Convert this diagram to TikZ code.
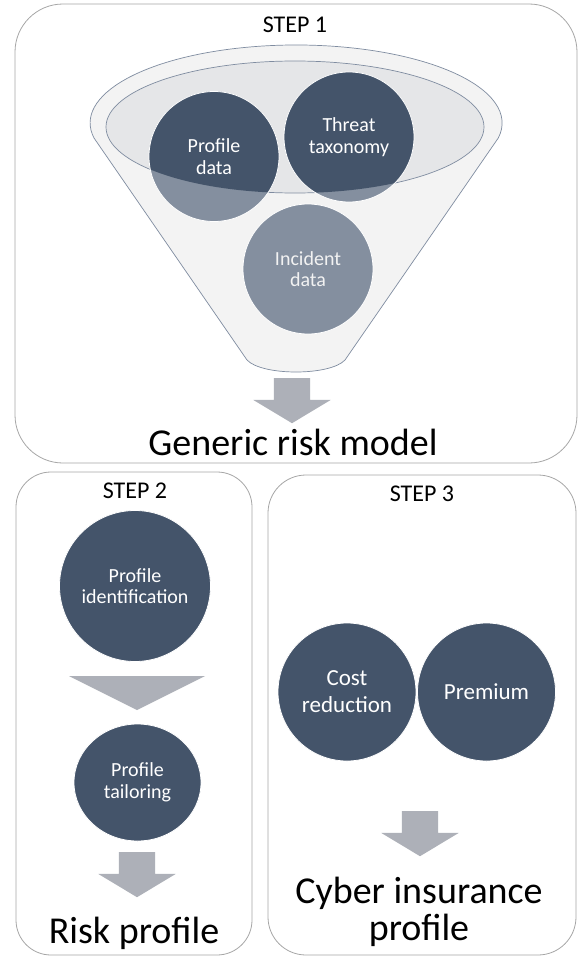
\documentclass[tikz,border=0pt]{standalone}
\usepackage{fontspec}
\setmainfont{Carlito}
\usepackage{tikz}
\usetikzlibrary{shapes, shapes.geometric, shapes.arrows, positioning}

\definecolor{bubbledark}{RGB}{68,84,106}
\definecolor{bubblelight}{RGB}{132,143,159}
\definecolor{arrowgrey}{RGB}{173,176,184}
\definecolor{funnelfill}{RGB}{243,243,243}
\definecolor{rimfill}{RGB}{229,230,232}
\definecolor{funnelline}{RGB}{127,140,160}
\definecolor{panelline}{RGB}{166,166,166}

\begin{document}
\begin{tikzpicture}[x=1pt, y=-1pt]
\tikzstyle{panel} = [draw=panelline, line width=0.8pt, fill=white, rectangle, inner sep=0pt]
\tikzstyle{steplabel} = [anchor=base, inner sep=0pt, font=\fontsize{24}{28}\selectfont]
\tikzstyle{bubble} = [circle, fill=bubbledark, draw=white, line width=0.8pt, text=white, align=center, inner sep=0pt, font=\fontsize{20}{21.5}\selectfont]
\tikzstyle{bigbubble} = [bubble, minimum size=138pt, font=\fontsize{23}{27}\selectfont]
\tikzstyle{darktop} = [path picture={\fill[bubbledark] (rim.center) ellipse [x radius=189pt, y radius=66pt];}]
\tikzstyle{result} = [anchor=base, inner sep=0pt, font=\fontsize{38}{37}\selectfont]
\tikzstyle{downarrow} = [single arrow, fill=arrowgrey, minimum height=45pt, inner xsep=0pt, inner ysep=18pt, single arrow head extend=20.5pt, single arrow tip angle=118, single arrow head indent=0pt, rotate=270, anchor=tail]

\useasboundingbox (0,0) rectangle (579,958);

%draw panels
\node [panel, name = step1, minimum width=562pt, minimum height=459pt, rounded corners=48pt] at (296,233.5) {};
\node [panel, name = step2, minimum width=236pt, minimum height=483pt, rounded corners=35pt] at (134,713.5) {};
\node [panel, name = step3, minimum width=308pt, minimum height=480pt, rounded corners=38pt] at (422,715) {};

%%step 1
\node (s1label)[steplabel] at (295,33) {STEP 1};
\path [fill=funnelfill, draw=funnelline, line width=0.7pt] (94,138) arc [start angle=168.9, end angle=371.1, x radius=206, y radius=78] -- (345,360) .. controls (330,376) and (262,376) .. (247,360) -- cycle;
\node (rim)[ellipse, minimum width=378pt, minimum height=132pt, inner sep=0pt, fill=rimfill, draw=funnelline, line width=0.7pt] at (295,127) {};

\node (profdata)[bubble, fill=bubblelight, darktop, minimum size=130pt] at (214,156.5) {Profile\\data};
\node (threat)[bubble, fill=bubblelight, darktop, minimum size=130pt] at (349,137) {Threat\\taxonomy};
\node (incident)[bubble, fill=bubblelight, text=gray!10, minimum size=130pt] at (308,269) {Incident\\data};

\node (arrow1)[downarrow] at (292,378) {};
\node (generic)[result] at (293,455) {Generic risk model};

%%step 2
\node (s2label)[steplabel] at (135,498) {STEP 2};
\node (profid)[bubble, minimum size=151pt] at (135,586) {Profile\\identification};
\fill [arrowgrey] (69,676) -- (205,676) -- (137,710) -- cycle;
\node (proftail)[bubble, ellipse, minimum width=127pt, minimum height=117pt] at (137.5,782.5) {Profile\\tailoring};
\node (arrow2)[downarrow] at (137,852) {};
\node (riskprof)[result] at (134,943) {Risk profile};

%%step 3
\node (s3label)[steplabel] at (422,501) {STEP 3};
\node (cost)[bigbubble] at (347,692) {Cost\\reduction};
\node (premium)[bigbubble] at (486.5,692) {Premium};
\node (arrow3)[downarrow] at (420,811) {};
\node (cyber)[result, anchor=center, align=center] at (419,912) {Cyber insurance\\profile};

\end{tikzpicture}
\end{document}
